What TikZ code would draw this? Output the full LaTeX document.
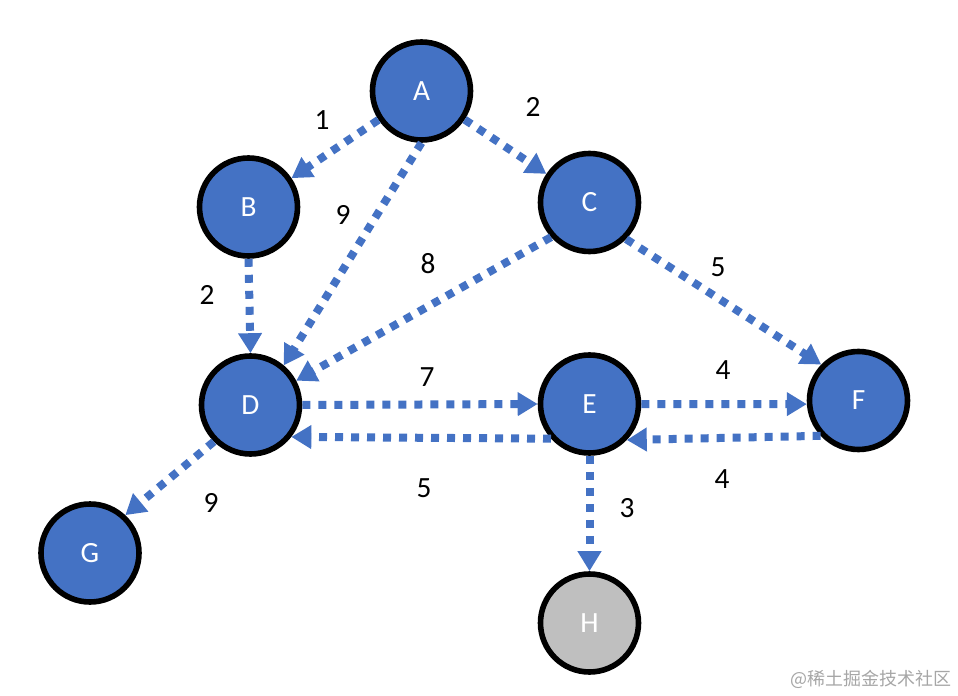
\documentclass[tikz,border=0pt]{standalone}
\usepackage{fontspec}
\setmainfont{Carlito}
\newfontfamily\cjkfont{Noto Sans CJK SC}
\usetikzlibrary{arrows.meta}
\definecolor{GraphBlue}{HTML}{4472C4}
\definecolor{GraphGrey}{HTML}{BFBFBF}
\definecolor{MarkGrey}{HTML}{A6A6A6}

\begin{document}
\begin{tikzpicture}[x=0.75pt,y=-0.75pt,>={Triangle[width=17pt,length=15pt]}]
  \tikzstyle{vertex}=[circle,draw=black,line width=4.2pt,fill=GraphBlue,
    minimum size=73.5pt,inner sep=0pt,text=white,
    font=\fontsize{22}{26}\selectfont]
  \tikzstyle{hop}=[->,draw=GraphBlue,line width=6pt,dash pattern=on 6pt off 6pt]
  \tikzstyle{cost}=[font=\fontsize{22}{26}\selectfont]
  \useasboundingbox (0,0) rectangle (958,696);
  % vertices
  \node[vertex] (A) at (421.5,91) {A};
  \node[vertex] (B) at (248.5,207) {B};
  \node[vertex] (C) at (589.5,202.5) {C};
  \node[vertex] (D) at (250.5,405) {D};
  \node[vertex] (E) at (589.5,404) {E};
  \node[vertex] (F) at (858.5,400.5) {F};
  \node[vertex] (G) at (90,553) {G};
  \node[vertex,fill=GraphGrey] (H) at (589.5,623) {H};
  % edges
  \draw[hop] (A) -- (B);
  \draw[hop] (A) -- (C);
  \draw[hop] (A.south) -- (D.50);
  \draw[hop] (B.south) -- (D.north);
  \draw[hop] (C.222) -- (D.28);
  \draw[hop] (C.-45) -- (F.136);
  \draw[hop] (D.east) -- (E.west);
  \draw[hop] (E.east) -- (F.184);
  \draw[hop] (F.223) -- (E.-44);
  \draw[hop] (E.222) -- (D.-38);
  \draw[hop] (D.225) -- (G.47);
  \draw[hop] (E.south) -- (H.north);
  % weights
  \node[cost] (wAB) at (322,120) {1};
  \node[cost] (wAC) at (533,107) {2};
  \node[cost] (wAD) at (343,215) {9};
  \node[cost] (wBD) at (207,295) {2};
  \node[cost] (wCD) at (428,264) {8};
  \node[cost] (wCF) at (718,267) {5};
  \node[cost] (wDE) at (427,377) {7};
  \node[cost] (wEF) at (723,370) {4};
  \node[cost] (wED) at (424,488) {5};
  \node[cost] (wFE) at (722,479) {4};
  \node[cost] (wDG) at (211,503) {9};
  \node[cost] (wEH) at (627,508) {3};
  \node[font=\cjkfont\fontsize{13.5}{16}\selectfont,text=MarkGrey] (mark)
    at (871,679) {@稀土掘金技术社区};
\end{tikzpicture}
\end{document}
